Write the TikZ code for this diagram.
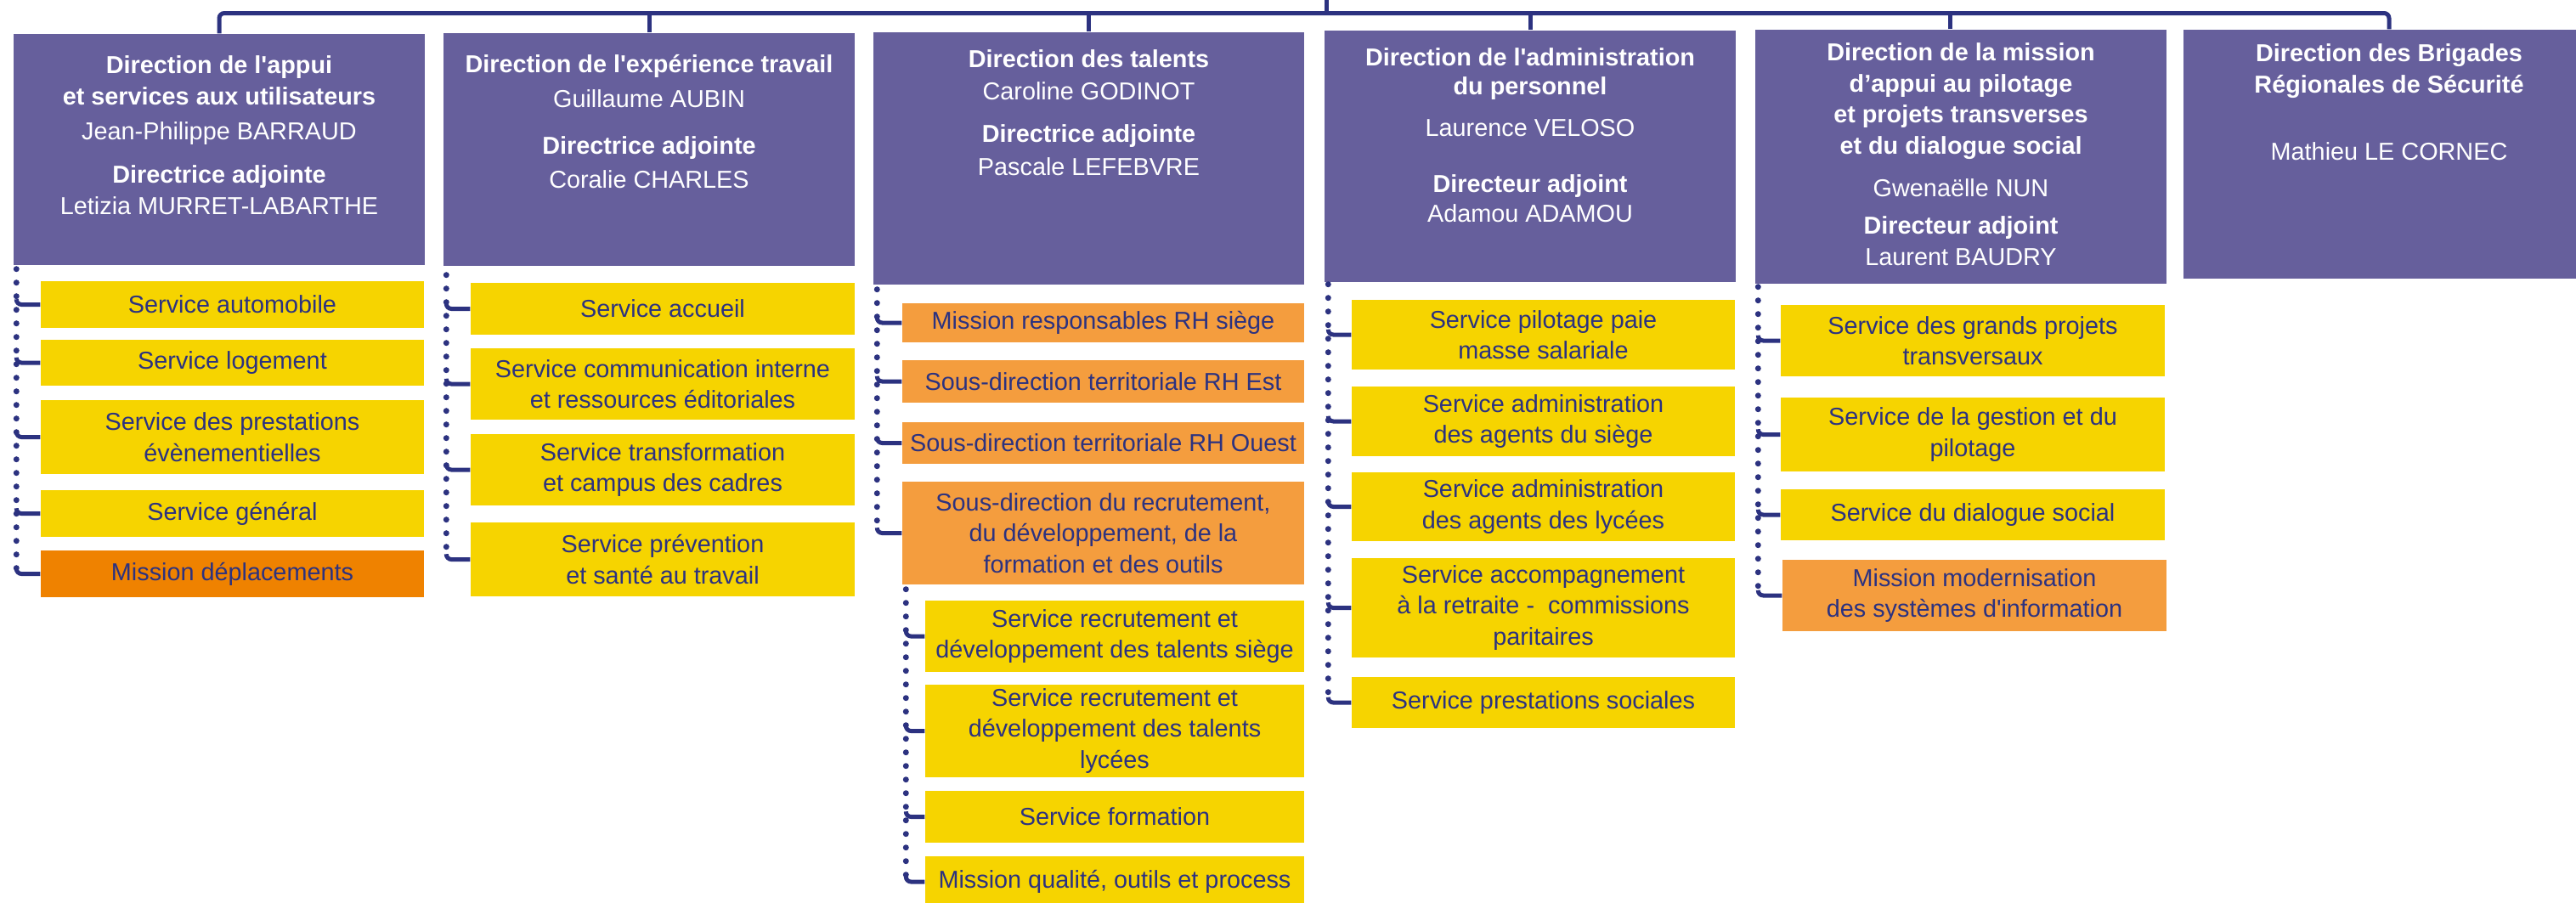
\documentclass[tikz,border=0pt]{standalone}
\usepackage{fontspec}
\setmainfont{Liberation Sans}
\usepackage{tikz}
\definecolor{hdrpurple}{HTML}{665F9C}
\definecolor{svcyellow}{HTML}{F6D400}
\definecolor{svcorange}{HTML}{F49D3E}
\definecolor{missorange}{HTML}{EF8200}
\definecolor{navy}{HTML}{2C3280}

\begin{document}
\begin{tikzpicture}[x=1cm,y=1cm]
\tikzstyle{every node}+=[inner sep=0pt]
\tikzstyle{hdr}=[fill=hdrpurple, text=white, font=\fontsize{8.2}{10.4}\selectfont]
\tikzstyle{svc}=[fill=svcyellow, text=navy, align=center, minimum width=4.51cm, font=\fontsize{8.2}{10.4}\selectfont]
\tikzstyle{sub}=[svc, fill=svcorange]
\tikzstyle{spine}=[navy, line width=0.07cm, line cap=round, dash pattern=on 0pt off 0.16cm]
\tikzstyle{stub}=[navy, line width=0.05cm, rounded corners=0.06cm]
\tikzstyle{bus}=[navy, line width=0.05cm, rounded corners=0.06cm]
\useasboundingbox (0,0) rectangle (30.32,-10.62);

% directions
\node [hdr] (h1) at (2.58,-1.76) {\parbox[c][2.72cm][t]{4.84cm}{\centering\vspace*{2.6mm}%
\textbf{Direction de l\textquotesingle appui\\et services aux utilisateurs}\\[0.5mm]
Jean-Philippe BARRAUD\\[1.4mm]
\textbf{Directrice adjointe}\\
Letizia MURRET-LABARTHE}};
\node [hdr] (h2) at (7.64,-1.76) {\parbox[c][2.74cm][t]{4.84cm}{\centering\vspace*{2.5mm}%
\textbf{Direction de l\textquotesingle expérience travail}\\[0.5mm]
Guillaume AUBIN\\[1.8mm]
\textbf{Directrice adjointe}\\[0.4mm]
Coralie CHARLES}};
\node [hdr] (h3) at (12.815,-1.865) {\parbox[c][2.97cm][t]{5.07cm}{\centering\vspace*{2.1mm}%
\textbf{Direction des talents}\\[0.1mm]
Caroline GODINOT\\[1.4mm]
\textbf{Directrice adjointe}\\[0.2mm]
Pascale LEFEBVRE}};
\node [hdr] (h4) at (18.01,-1.84) {\parbox[c][2.96cm][t]{4.84cm}{\centering\vspace*{2.1mm}%
\textbf{Direction de l\textquotesingle administration}\\[-0.3mm]
\textbf{du personnel}\\[1.3mm]
Laurence VELOSO\\[2.9mm]
\textbf{Directeur adjoint}\\[-0.2mm]
Adamou ADAMOU}};
\node [hdr] (h5) at (23.08,-1.845) {\parbox[c][2.99cm][t]{4.84cm}{\centering\vspace*{1.6mm}%
\textbf{Direction de la mission\\d’appui au pilotage\\et projets transverses\\et du dialogue social}\\[1.3mm]
Gwenaëlle NUN\\[0.8mm]
\textbf{Directeur adjoint}\\
Laurent BAUDRY}};
\node [hdr] (h6) at (28.12,-1.815) {\parbox[c][2.93cm][t]{4.84cm}{\centering\vspace*{1.7mm}%
\textbf{Direction des Brigades\\Régionales de Sécurité}\\[4.3mm]
Mathieu LE CORNEC}};

% services, column 1
\node [svc, minimum height=0.55cm] (c1a) at (2.735,-3.585) {Service automobile};
\node [svc, minimum height=0.54cm] (c1b) at (2.735,-4.27) {Service logement};
\node [svc, minimum height=0.87cm] (c1c) at (2.735,-5.145) {Service des prestations\\évènementielles};
\node [svc, minimum height=0.55cm] (c1d) at (2.735,-6.045) {Service général};
\node [svc, fill=missorange, minimum height=0.55cm] (c1e) at (2.735,-6.755) {Mission déplacements};

% column 2
\node [svc, minimum width=4.52cm, minimum height=0.61cm] (c2a) at (7.80,-3.635) {Service accueil};
\node [svc, minimum width=4.52cm, minimum height=0.84cm] (c2b) at (7.80,-4.52) {Service communication interne\\et ressources éditoriales};
\node [svc, minimum width=4.52cm, minimum height=0.84cm] (c2c) at (7.80,-5.53) {Service transformation\\et campus des cadres};
\node [svc, minimum width=4.52cm, minimum height=0.87cm] (c2d) at (7.80,-6.585) {Service prévention\\et santé au travail};

% column 3
\node [sub, minimum width=4.73cm, minimum height=0.46cm] (c3a) at (12.985,-3.80) {Mission responsables RH siège};
\node [sub, minimum width=4.73cm, minimum height=0.50cm] (c3b) at (12.985,-4.49) {Sous-direction territoriale RH Est};
\node [sub, minimum width=4.73cm, minimum height=0.49cm] (c3c) at (12.985,-5.215) {Sous-direction territoriale RH Ouest};
\node [sub, minimum width=4.73cm, minimum height=1.21cm] (c3d) at (12.985,-6.275) {Sous-direction du recrutement,\\du développement, de la\\formation et des outils};
\node [svc, minimum width=4.46cm, minimum height=0.84cm] (c3e) at (13.12,-7.49) {Service recrutement et\\développement des talents siège};
\node [svc, minimum width=4.46cm, minimum height=1.09cm] (c3f) at (13.12,-8.605) {Service recrutement et\\développement des talents\\lycées};
\node [svc, minimum width=4.46cm, minimum height=0.61cm] (c3g) at (13.12,-9.615) {Service formation};
\node [svc, minimum width=4.46cm, minimum height=0.60cm] (c3h) at (13.12,-10.38) {Mission qualité, outils et process};

% column 4
\node [svc, minimum height=0.82cm] (c4a) at (18.165,-3.94) {Service pilotage paie\\masse salariale};
\node [svc, minimum height=0.82cm] (c4b) at (18.165,-4.96) {Service administration\\des agents du siège};
\node [svc, minimum height=0.81cm] (c4c) at (18.165,-5.965) {Service administration\\des agents des lycées};
\node [svc, minimum height=1.17cm] (c4d) at (18.165,-7.155) {Service accompagnement\\à la retraite -~ commissions\\paritaires};
\node [svc, minimum height=0.60cm] (c4e) at (18.165,-8.27) {Service prestations sociales};

% column 5
\node [svc, minimum width=4.52cm, minimum height=0.84cm] (c5a) at (23.22,-4.01) {Service des grands projets\\transversaux};
\node [svc, minimum width=4.52cm, minimum height=0.87cm] (c5b) at (23.22,-5.115) {Service de la gestion et du\\pilotage};
\node [svc, minimum width=4.52cm, minimum height=0.60cm] (c5c) at (23.22,-6.06) {Service du dialogue social};
\node [sub, minimum width=4.52cm, minimum height=0.84cm] (c5d) at (23.24,-7.01) {Mission modernisation\\des systèmes d\textquotesingle information};

% top bus
\coordinate (top) at (15.61,0);
\coordinate (bus) at (15.61,-0.155);
\coordinate (d5) at ([xshift=-0.13cm]h5.north);
\draw [bus] (h1.north) |- (bus) -| (h6.north);
\draw [bus] (top) -- (bus);
\foreach \h in {h2,h3,h4,d5}
  \draw [bus] (\h) -- (\h |- bus);

% spines
\coordinate (s1) at ([xshift=0.04cm,yshift=-0.04cm]h1.south west);
\coordinate (s2) at ([xshift=0.04cm,yshift=-0.1cm]h2.south west);
\coordinate (s3) at ([xshift=0.05cm,yshift=-0.05cm]h3.south west);
\coordinate (s4) at ([xshift=0.05cm,yshift=-0.02cm]h4.south west);
\coordinate (s5) at ([xshift=0.04cm,yshift=-0.03cm]h5.south west);
\coordinate (s6) at ([xshift=0.05cm,yshift=-0.05cm]c3d.south west);
\draw [spine] (s1) -- (s1 |- c1e.west);
\draw [spine] (s2) -- (s2 |- c2d.west);
\draw [spine] (s3) -- (s3 |- c3d.west);
\draw [spine] (s6) -- (s6 |- c3h.west);
\draw [spine] (s4) -- (s4 |- c4e.west);
\draw [spine] (s5) -- (s5 |- c5d.west);
\foreach \n in {c1a,c1b,c1c,c1d,c1e}
  \draw [stub] (s1 |- \n.west) ++(0,0.05) |- (\n.west);
\foreach \n in {c2a,c2b,c2c,c2d}
  \draw [stub] (s2 |- \n.west) ++(0,0.05) |- (\n.west);
\foreach \n in {c3a,c3b,c3c,c3d}
  \draw [stub] (s3 |- \n.west) ++(0,0.05) |- (\n.west);
\foreach \n in {c3e,c3f,c3g,c3h}
  \draw [stub] (s6 |- \n.west) ++(0,0.05) |- (\n.west);
\foreach \n in {c4a,c4b,c4c,c4d,c4e}
  \draw [stub] (s4 |- \n.west) ++(0,0.05) |- (\n.west);
\foreach \n in {c5a,c5b,c5c,c5d}
  \draw [stub] (s5 |- \n.west) ++(0,0.05) |- (\n.west);
\end{tikzpicture}
\end{document}
